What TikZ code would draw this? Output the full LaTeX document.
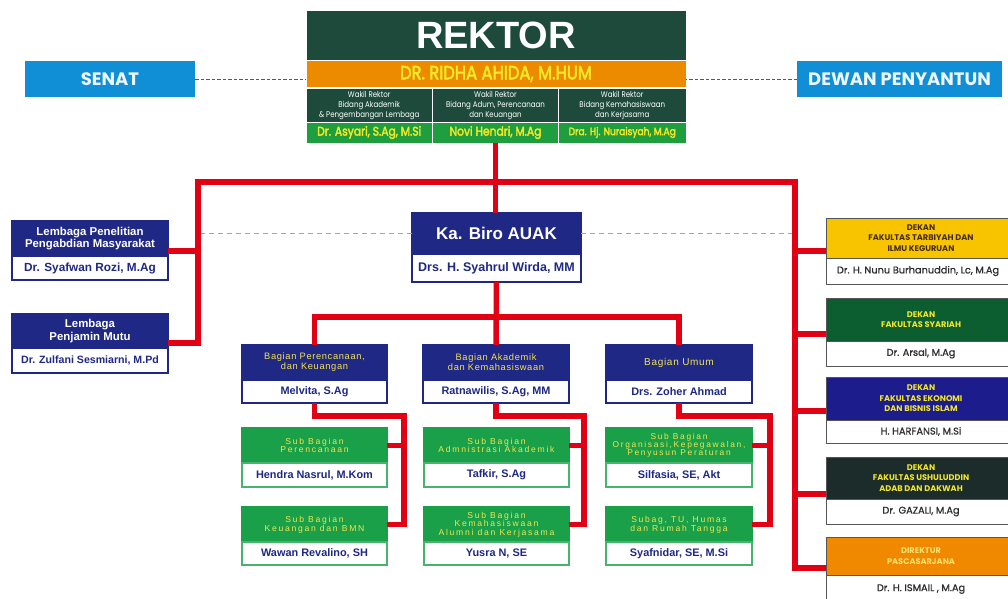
\documentclass[tikz,border=0pt]{standalone}
\usepackage{fontspec}
\usepackage{graphicx}
\setmainfont{Liberation Sans}
\newfontfamily\pop{Poppins}
\newfontfamily\popmed[FakeBold=0.8]{Poppins}
\newfontfamily\popfb[FakeBold=3]{Poppins}
\newfontfamily\popn[FakeStretch=0.86]{Poppins}
\newfontfamily\wide[LetterSpace=20]{Liberation Sans}
\newfontfamily\widebag[LetterSpace=7]{Liberation Sans}
\newcommand\narrowbold[2]{\scalebox{0.86}[1]{\popfb\fontsize{#1}{#1}\selectfont #2}}
\definecolor{cdkgreen}{RGB}{29,74,59}
\definecolor{corange}{RGB}{236,138,0}
\definecolor{cyel}{RGB}{243,232,40}
\definecolor{cwgreen}{RGB}{30,158,62}
\definecolor{cnavy}{RGB}{31,40,132}
\definecolor{csub}{RGB}{26,160,72}
\definecolor{cred}{RGB}{226,0,20}
\definecolor{cblue}{RGB}{16,142,214}
\definecolor{cftik}{RGB}{248,196,0}
\definecolor{cftiktx}{RGB}{70,45,15}
\definecolor{csyar}{RGB}{12,94,48}
\definecolor{cfebi}{RGB}{28,28,140}
\definecolor{cush}{RGB}{28,44,42}
\definecolor{cpasca}{RGB}{240,136,0}
\definecolor{cpascatx}{RGB}{252,226,110}
\definecolor{cgrayb}{RGB}{85,85,85}
\definecolor{cnametx}{RGB}{45,45,45}
\definecolor{ctitle}{RGB}{242,228,80}
\definecolor{cdashor}{RGB}{240,150,50}
\begin{document}
\begin{tikzpicture}[x=1pt,y=-1pt,
  every node/.style={inner sep=0pt,outer sep=0pt,align=center,anchor=north west},
  redline/.style={draw=cred,line width=5.5pt},
  graydash/.style={draw=black!65,line width=0.9pt,dash pattern=on 3.5pt off 2pt},
  orangedash/.style={draw=cdashor,line width=1.1pt,dash pattern=on 5pt off 4pt},
  rkbox/.style={draw=white,line width=1pt},
  navytitle/.style={fill=cnavy,draw=cnavy,line width=1.2pt,text=ctitle},
  navyname/.style={fill=white,draw=cnavy,line width=1.2pt,text=cnavy,font=\bfseries\fontsize{10.9}{12}\selectfont},
  subtitle/.style={fill=csub,draw=csub,line width=1.2pt,text=ctitle,font=\wide\fontsize{8.6}{8.6}\selectfont},
  subname/.style={fill=white,draw=csub!80,line width=1.2pt,text=cnavy,font=\bfseries\fontsize{10.9}{12}\selectfont},
  bagtitle/.style={font=\widebag\fontsize{9.3}{10}\selectfont},
  dtitle/.style={draw=cgrayb,line width=1pt,text=cyel,font=\pop\bfseries\fontsize{8.2}{10.6}\selectfont,minimum width=190pt},
  dname/.style={fill=white,draw=cgrayb,line width=1pt,text=cnametx,font=\popmed\fontsize{9.8}{11}\selectfont,minimum width=190pt},
  sidebox/.style={fill=cblue,text=white!92!cblue,font=\pop\bfseries\fontsize{18}{19}\selectfont,minimum height=36pt},
  wrtext/.style={rkbox,fill=cdkgreen,minimum height=34pt,text=white,font=\popn\fontsize{8.2}{10}\selectfont},
  wrname/.style={rkbox,fill=cwgreen,minimum height=21pt,text=cyel}
  ]
\clip (0,0) rectangle (1008,598);
\fill[white] (0,0) rectangle (1008,598);

% ---------- Rektor block
\node[rkbox,fill=cdkgreen,minimum width=380pt,minimum height=50pt,text=white,font=\bfseries\fontsize{38}{38}\selectfont] (rektor) at (306,10) {REKTOR};
\node[rkbox,fill=corange,minimum width=380pt,minimum height=27pt,text=cyel] (rname) at (306,60.5) {\narrowbold{19}{DR. RIDHA AHIDA, M.HUM}};
\node[wrtext,minimum width=126.5pt] (wr1) at (306,88) {Wakil Rektor\\Bidang Akademik\\\& Pengembangan Lembaga};
\node[wrtext,minimum width=126pt] (wr2) at (432.5,88) {Wakil Rektor\\Bidang Adum, Perencanaan\\dan Keuangan};
\node[wrtext,minimum width=127.5pt] (wr3) at (558.5,88) {Wakil Rektor\\Bidang Kemahasiswaan\\dan Kerjasama};
\node[wrname,minimum width=126.5pt] (wr1n) at (306,122) {\narrowbold{12.5}{Dr. Asyari, S.Ag, M.Si}};
\node[wrname,minimum width=126pt] (wr2n) at (432.5,122) {\narrowbold{12.5}{Novi Hendri, M.Ag}};
\node[wrname,minimum width=127.5pt] (wr3n) at (558.5,122) {\narrowbold{10.6}{Dra. Hj. Nuraisyah, M.Ag}};

% ---------- Senat / Dewan
\node[sidebox,minimum width=170pt] (senat) at (25,61) {SENAT};
\node[sidebox,minimum width=205pt] (dewan) at (797,61) {DEWAN PENYANTUN};

% ---------- Ka Biro
\node[navytitle,minimum width=169pt,minimum height=41pt,text=white,font=\bfseries\fontsize{17}{18}\selectfont] (kbt) at (412,213) {Ka. Biro AUAK};
\node[navyname,minimum width=169pt,minimum height=28pt,font=\bfseries\fontsize{12.5}{14}\selectfont] (kbn) at (412,254) {Drs. H. Syahrul Wirda, MM};

% ---------- Lembaga (left)
\node[navytitle,minimum width=156pt,minimum height=35pt,text=white,font=\bfseries\fontsize{11.4}{12.2}\selectfont] (lp1t) at (12,221) {Lembaga Penelitian\\Pengabdian Masyarakat};
\node[navyname,minimum width=156pt,minimum height=24pt,font=\bfseries\fontsize{11.8}{12}\selectfont] (lp1n) at (12,256) {Dr. Syafwan Rozi, M.Ag};
\node[navytitle,minimum width=156pt,minimum height=34pt,text=white,font=\bfseries\fontsize{11.4}{12.2}\selectfont] (lp2t) at (12,314) {Lembaga\\Penjamin Mutu};
\node[navyname,minimum width=156pt,minimum height=25pt,font=\bfseries\fontsize{10.6}{12}\selectfont] (lp2n) at (12,348) {Dr. Zulfani Sesmiarni, M.Pd};

% ---------- Dekan (right)
\node[dtitle,fill=cftik,text=cftiktx,minimum height=40pt] (d1t) at (826,218) {DEKAN\\FAKULTAS TARBIYAH DAN\\ILMU KEGURUAN};
\node[dname,minimum height=26pt] (d1n) at (826,258) {\hspace*{-6pt}Dr. H. Nunu Burhanuddin, Lc, M.Ag};
\node[dtitle,fill=csyar,minimum height=43pt] (d2t) at (826,298) {DEKAN\\FAKULTAS SYARIAH};
\node[dname,minimum height=25pt] (d2n) at (826,341) {Dr. Arsal, M.Ag};
\node[dtitle,fill=cfebi,minimum height=43pt] (d3t) at (826,377) {DEKAN\\FAKULTAS EKONOMI\\DAN BISNIS ISLAM};
\node[dname,minimum height=23pt] (d3n) at (826,420) {H. HARFANSI, M.Si};
\node[dtitle,fill=cush,minimum height=42pt] (d4t) at (826,457) {DEKAN\\FAKULTAS USHULUDDIN\\ADAB DAN DAKWAH};
\node[dname,minimum height=25pt] (d4n) at (826,499) {Dr. GAZALI, M.Ag};
\node[dtitle,fill=cpasca,text=cpascatx,minimum height=38pt] (d5t) at (826,537) {DIREKTUR\\PASCASARJANA};
\node[dname,minimum height=28pt] (d5n) at (826,575) {Dr. H. ISMAIL , M.Ag};

% ---------- Bagian
\node[navytitle,bagtitle,minimum width=145pt,minimum height=35pt] (b1t) at (242,345) {Bagian Perencanaan,\\dan Keuangan};
\node[navyname,minimum width=145pt,minimum height=23pt] (b1n) at (242,380) {Melvita, S.Ag};
\node[navytitle,bagtitle,minimum width=146pt,minimum height=35pt] (b2t) at (423,345) {Bagian Akademik\\dan Kemahasiswaan};
\node[navyname,minimum width=146pt,minimum height=23pt] (b2n) at (423,380) {Ratnawilis, S.Ag, MM};
\node[navytitle,bagtitle,minimum width=146pt,minimum height=35pt,font=\widebag\fontsize{10}{10}\selectfont] (b3t) at (606,345) {Bagian Umum};
\node[navyname,minimum width=146pt,minimum height=23pt] (b3n) at (606,380) {Drs. Zoher Ahmad};

% ---------- Sub bagian
\node[subtitle,minimum width=145pt,minimum height=35pt] (s1at) at (242,428) {Sub Bagian\\Perencanaan};
\node[subname,minimum width=145pt,minimum height=24pt] (s1an) at (242,463) {Hendra Nasrul, M.Kom};
\node[subtitle,minimum width=145pt,minimum height=35pt] (s1bt) at (242,507) {Sub Bagian\\Keuangan dan BMN};
\node[subname,minimum width=145pt,minimum height=23pt] (s1bn) at (242,542) {Wawan Revalino, SH};
\node[subtitle,minimum width=145pt,minimum height=35pt] (s2at) at (424,428) {Sub Bagian\\Admnistrasi Akademik};
\node[subname,minimum width=145pt,minimum height=24pt] (s2an) at (424,463) {Tafkir, S.Ag};
\node[subtitle,minimum width=145pt,minimum height=35pt,font=\wide\fontsize{8.6}{8.3}\selectfont] (s2bt) at (424,507) {Sub Bagian\\Kemahasiswaan\\Alumni dan Kerjasama};
\node[subname,minimum width=145pt,minimum height=23pt] (s2bn) at (424,542) {Yusra N, SE};
\node[subtitle,minimum width=146pt,minimum height=35pt,font=\wide\fontsize{8.4}{8.3}\selectfont] (s3at) at (606,428) {Sub Bagian\\Organisasi,Kepegawalan,\\Penyusun Peraturan};
\node[subname,minimum width=146pt,minimum height=24pt] (s3an) at (606,463) {Silfasia, SE, Akt};
\node[subtitle,minimum width=146pt,minimum height=35pt] (s3bt) at (606,507) {Subag, TU, Humas\\dan Rumah Tangga};
\node[subname,minimum width=146pt,minimum height=23pt] (s3bn) at (606,542) {Syafnidar, SE, M.Si};

% ---------- dashed relations
\coordinate (hl) at (198,182);
\coordinate (hr) at (795,182);
\draw[graydash] (senat.east) -- (senat.east -| rname.west);
\draw[graydash] (dewan.west) -- (dewan.west -| rname.east);
\draw[orangedash] (kbt.west) -- (kbt.west -| hl);
\draw[orangedash] (kbt.east) -- (kbt.east -| hr);

% ---------- red connectors
\draw[redline] (wr2n.south) -- (wr2n.south |- kbt.north);
\draw[redline] ([yshift=5pt]lp2t.south east) -| (hl) -- (hr) |- ([yshift=7pt]d5t.south west);
\draw[redline] ([yshift=5pt]lp1t.south east) -- ([yshift=5pt]lp1t.south east -| hl);
\draw[redline] ([yshift=7pt]d1t.south west) -- ([yshift=7pt]d1t.south west -| hr);
\draw[redline] ([yshift=7pt]d2t.south west) -- ([yshift=7pt]d2t.south west -| hr);
\draw[redline] ([yshift=9pt]d3t.south west) -- ([yshift=9pt]d3t.south west -| hr);
\draw[redline] ([yshift=5pt]d4t.south west) -- ([yshift=5pt]d4t.south west -| hr);

\coordinate (bbus) at (496,317);
\draw[redline] (kbn.south) -- (b2t.north);
\draw[redline] (b1t.north) |- (bbus) -| (b3t.north);

\coordinate (c1) at (404,416);
\coordinate (c2) at (584,416);
\coordinate (c3) at (770,416);
\draw[redline] (b1n.south) |- (c1) |- (s1bt.east);
\draw[redline] (s1at.east) -- (s1at.east -| c1);
\draw[redline] (b2n.south) |- (c2) |- (s2bt.east);
\draw[redline] (s2at.east) -- (s2at.east -| c2);
\draw[redline] (b3n.south) |- (c3) |- (s3bt.east);
\draw[redline] (s3at.east) -- (s3at.east -| c3);
\end{tikzpicture}
\end{document}
